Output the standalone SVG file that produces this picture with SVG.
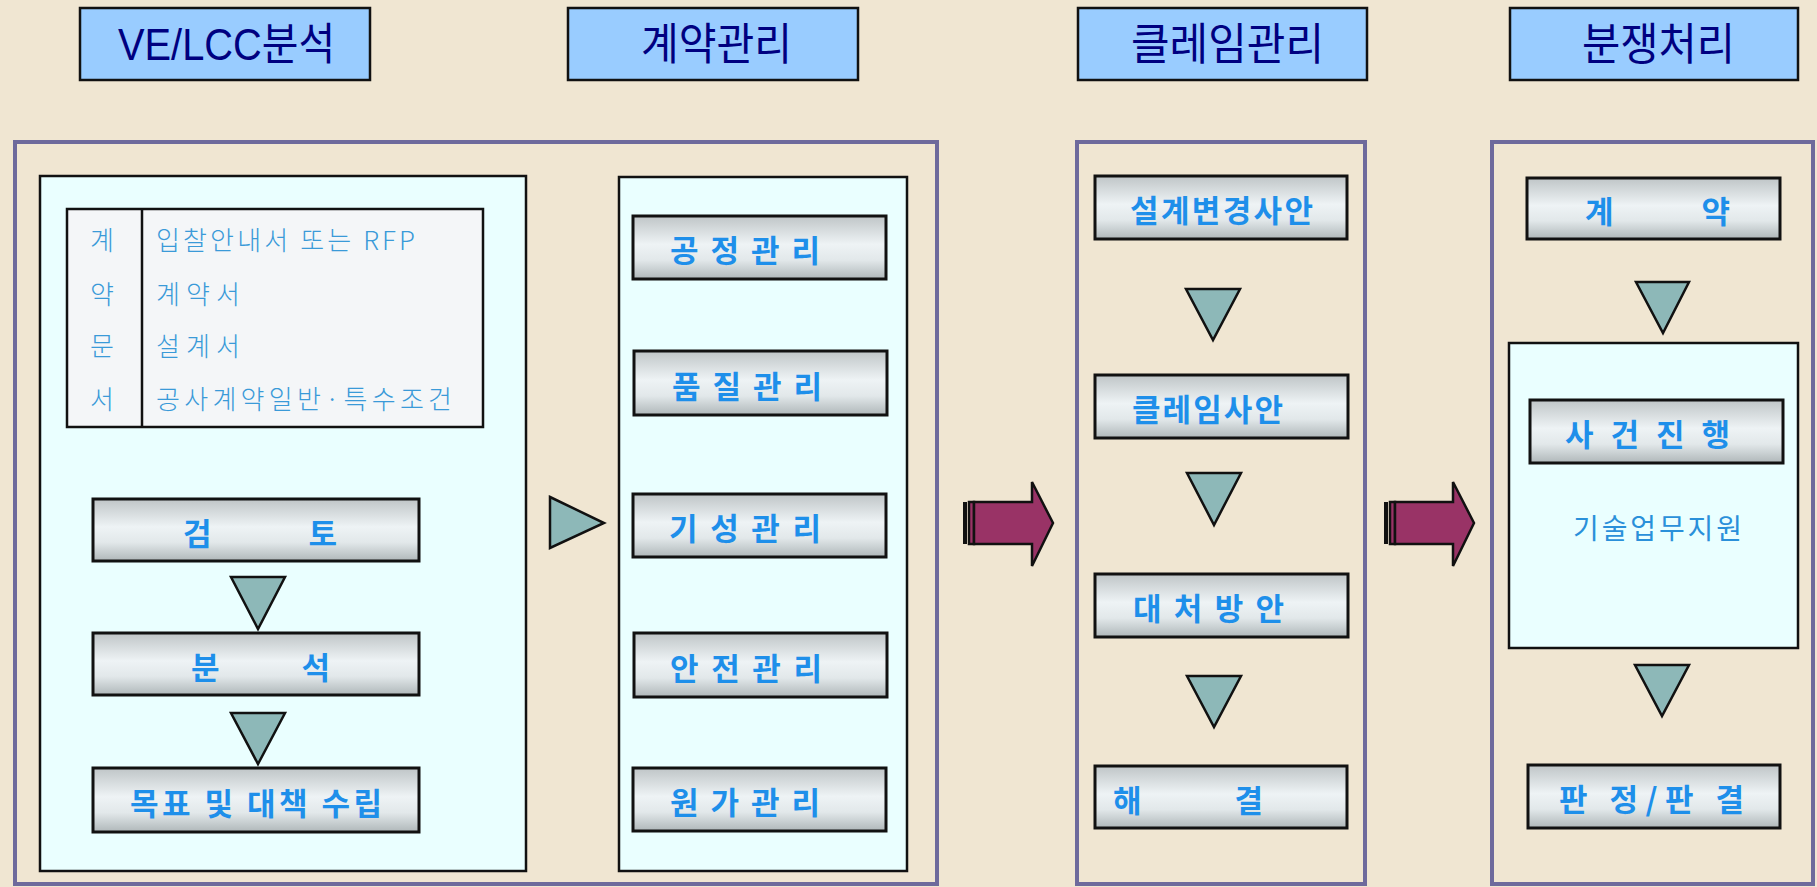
<svg xmlns="http://www.w3.org/2000/svg" width="1817" height="887" viewBox="0 0 1817 887">
<defs>
<linearGradient id="metal" x1="0" y1="0" x2="0" y2="1">
<stop offset="0" stop-color="#BFC5C7"/>
<stop offset="0.45" stop-color="#EEF3F5"/>
<stop offset="0.7" stop-color="#E2E8EA"/>
<stop offset="1" stop-color="#AFB7B9"/>
</linearGradient>
<style>
.hdr{fill:#99CCFF;stroke:#111;stroke-width:2.5}
.htxt{font-family:"Liberation Sans","Noto Sans CJK KR",sans-serif;font-size:44px;fill:#000080}
.panel{fill:none;stroke:#6E6A9C;stroke-width:4}
.inner{fill:#EAFFFF;stroke:#111;stroke-width:2.5}
.tbl{fill:#F4F6F8;stroke:#111;stroke-width:2.5}
.box{fill:url(#metal);stroke:#111;stroke-width:3}
.btxt{font-family:"Noto Sans CJK KR","Liberation Sans",sans-serif;font-size:31px;font-weight:bold;fill:#1E8FEA}
.ttxt{font-family:"Noto Sans CJK KR","Liberation Sans",sans-serif;font-size:26px;font-weight:300;fill:#3A9AD8}
.ntxt{font-family:"Noto Sans CJK KR","Liberation Sans",sans-serif;font-size:28px;fill:#2A90DA}
.tri{fill:#8DB8B8;stroke:#111;stroke-width:2.5;stroke-linejoin:miter}
.arr{fill:#993366;stroke:#111;stroke-width:2.5;stroke-linejoin:miter}
</style>
</defs>
<rect x="0" y="0" width="1817" height="887" fill="#F0E6D2"/>

<g id="header-ve">
<rect class="hdr" x="80" y="8" width="290" height="72"/>
<text class="htxt" x="118" y="60" textLength="217" lengthAdjust="spacingAndGlyphs">VE/LCC분석</text>
</g>
<g id="header-contract">
<rect class="hdr" x="568" y="8" width="290" height="72"/>
<text class="htxt" x="641" y="60" textLength="151" lengthAdjust="spacingAndGlyphs">계약관리</text>
</g>
<g id="header-claim">
<rect class="hdr" x="1078" y="8" width="289" height="72"/>
<text class="htxt" x="1131" y="60" textLength="193" lengthAdjust="spacingAndGlyphs">클레임관리</text>
</g>
<g id="header-dispute">
<rect class="hdr" x="1510" y="8" width="288" height="72"/>
<text class="htxt" x="1582" y="60" textLength="153" lengthAdjust="spacingAndGlyphs">분쟁처리</text>
</g>

<g id="panel-1">
<rect class="panel" x="15" y="142" width="922" height="742"/>
</g>
<g id="panel-2">
<rect class="panel" x="1077" y="142" width="288" height="742"/>
</g>
<g id="panel-3">
<rect class="panel" x="1492" y="142" width="321" height="742"/>
</g>

<g id="ve-box">
<rect class="inner" x="40" y="176" width="486" height="695"/>
</g>
<g id="contract-docs">
<rect class="tbl" x="67" y="209" width="416" height="218"/>
<line x1="142" y1="209" x2="142" y2="427" stroke="#111" stroke-width="2.5"/>
<text class="ttxt" x="102" y="250" text-anchor="middle">계</text>
<text class="ttxt" x="102" y="304" text-anchor="middle">약</text>
<text class="ttxt" x="102" y="356" text-anchor="middle">문</text>
<text class="ttxt" x="102" y="409" text-anchor="middle">서</text>
<text class="ttxt" x="156" y="250" textLength="259" lengthAdjust="spacing">입찰안내서 또는 RFP</text>
<text class="ttxt" x="156" y="304" textLength="84" lengthAdjust="spacing">계약서</text>
<text class="ttxt" x="156" y="356" textLength="84" lengthAdjust="spacing">설계서</text>
<text class="ttxt" x="156" y="409" textLength="296" lengthAdjust="spacing">공사계약일반·특수조건</text>
</g>
<g id="review">
<rect class="box" x="93" y="499" width="326" height="62"/>
<text class="btxt" x="183" y="545" textLength="154" lengthAdjust="spacing">검 토</text>
</g>
<g id="analysis">
<rect class="box" x="93" y="633" width="326" height="62"/>
<text class="btxt" x="191" y="679" textLength="139" lengthAdjust="spacing">분 석</text>
</g>
<g id="goal">
<rect class="box" x="93" y="768" width="326" height="64"/>
<text class="btxt" x="130" y="815" textLength="252" lengthAdjust="spacing">목표 및 대책 수립</text>
</g>

<g id="contract-box">
<rect class="inner" x="619" y="177" width="288" height="694"/>
</g>
<g id="schedule">
<rect class="box" x="633" y="216" width="253" height="63"/>
<text class="btxt" x="670" y="262" textLength="150" lengthAdjust="spacing">공 정 관 리</text>
</g>
<g id="quality">
<rect class="box" x="634" y="351" width="253" height="64"/>
<text class="btxt" x="672" y="398" textLength="150" lengthAdjust="spacing">품 질 관 리</text>
</g>
<g id="progress">
<rect class="box" x="633" y="494" width="253" height="63"/>
<text class="btxt" x="669" y="540" textLength="152" lengthAdjust="spacing">기 성 관 리</text>
</g>
<g id="safety">
<rect class="box" x="634" y="633" width="253" height="64"/>
<text class="btxt" x="670" y="680" textLength="152" lengthAdjust="spacing">안 전 관 리</text>
</g>
<g id="cost">
<rect class="box" x="633" y="768" width="253" height="63"/>
<text class="btxt" x="670" y="814" textLength="150" lengthAdjust="spacing">원 가 관 리</text>
</g>

<g id="design-change">
<rect class="box" x="1095" y="176" width="252" height="63"/>
<text class="btxt" x="1130" y="222" textLength="183" lengthAdjust="spacing">설계변경사안</text>
</g>
<g id="claim-item">
<rect class="box" x="1095" y="375" width="253" height="63"/>
<text class="btxt" x="1132" y="421" textLength="151" lengthAdjust="spacing">클레임사안</text>
</g>
<g id="countermeasure">
<rect class="box" x="1095" y="574" width="253" height="63"/>
<text class="btxt" x="1133" y="620" textLength="151" lengthAdjust="spacing">대 처 방 안</text>
</g>
<g id="resolution">
<rect class="box" x="1095" y="766" width="252" height="62"/>
<text class="btxt" x="1113" y="812" textLength="150" lengthAdjust="spacing">해 결</text>
</g>

<g id="contract">
<rect class="box" x="1527" y="178" width="253" height="61"/>
<text class="btxt" x="1585" y="223" textLength="145" lengthAdjust="spacing">계 약</text>
</g>
<g id="case-box">
<rect class="inner" x="1509" y="343" width="289" height="305"/>
<text class="ntxt" x="1573" y="539" textLength="169" lengthAdjust="spacing">기술업무지원</text>
</g>
<g id="case">
<rect class="box" x="1530" y="400" width="253" height="63"/>
<text class="btxt" x="1565" y="446" textLength="165" lengthAdjust="spacing">사 건 진 행</text>
</g>
<g id="judgment">
<rect class="box" x="1528" y="765" width="252" height="63"/>
<text class="btxt" x="1559" y="811" textLength="185" lengthAdjust="spacing">판 정/판 결</text>
</g>

<g id="connectors">
<polygon class="tri" points="231,577 285,577 258,629"/>
<polygon class="tri" points="231,713 285,713 258,764"/>
<polygon class="tri" points="550,497 604,523 550,548"/>
<polygon class="tri" points="1186,289 1240,289 1213,340"/>
<polygon class="tri" points="1187,473 1241,473 1214,525"/>
<polygon class="tri" points="1187,676 1241,676 1214,727"/>
<polygon class="tri" points="1636,282 1689,282 1663,333"/>
<polygon class="tri" points="1635,665 1689,665 1662,716"/>
<g id="arrow-1">
<rect x="963" y="502" width="4" height="42" fill="#111"/>
<rect class="arr" x="969" y="502" width="5" height="42"/>
<polygon class="arr" points="974,502 1032,502 1032,482 1053,523 1032,566 1032,544 974,544"/>
</g>
<g id="arrow-2">
<rect x="1384" y="502" width="4" height="42" fill="#111"/>
<rect class="arr" x="1390" y="502" width="5" height="42"/>
<polygon class="arr" points="1395,502 1453,502 1453,482 1474,523 1453,566 1453,544 1395,544"/>
</g>
</g>
</svg>
